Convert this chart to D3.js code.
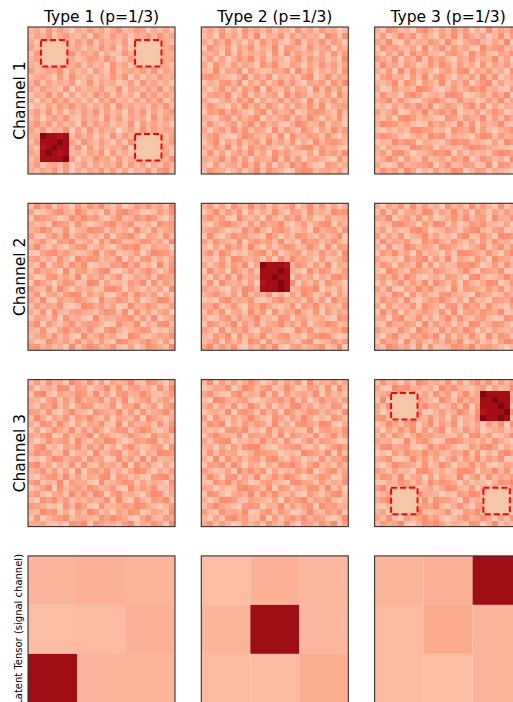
<!DOCTYPE html>
<html>
<head>
<meta charset="utf-8">
<script src="https://cdn.jsdelivr.net/npm/d3@7"></script>
<style>
  html, body { margin: 0; padding: 0; background: #fff; }
  text { font-family: "DejaVu Sans", sans-serif; fill: #000; }
</style>
</head>
<body>
<script>
// Column / row titles
const typeTitles = ["Type 1 (p=1/3)", "Type 2 (p=1/3)", "Type 3 (p=1/3)"];
const rowTitles = ["Channel 1", "Channel 2", "Channel 3"];
const latentTitle = "Latent Tensor (signal channel)";

// Noise levels per cell: digits 0 (light) .. 9 (dark); letters = signal block (a < b < c)
const noiseLevels = [0, 9];
const signalLevels = { a: 0.82, b: 0.87, c: 0.95 };

const ch1Type1 = [
  "4527364153746258347615362", "3648257436185374625473846", "5255555374826453717555553",
  "6355555462538471628555557", "2755555836471523846555554", "4655555524763851374555556",
  "5355555472635184627555553", "7346582635174283564738264", "3564172843625374816253745",
  "4826354713826451372846352", "6375428163547238165374826", "2548371625384726351847364",
  "5163847352617483526374815", "1426375846253718463527483", "4738261537482635174826357",
  "3615748326451837264518374", "5847263518374625381746352", "6372548162837450362837465",
  "45cbbab374615283745555536", "37bbbcb628537416285555547", "52abcbb481726354815555553",
  "64bcbab352648173525555562", "36bbbbc715384627355555548", "4725638147263548273615374",
  "5364827153648372615482793"
];
const ch1Type2 = [
  "4637251846372541836274513", "3518462739154827364519728", "6274935162847315926483751",
  "2853716482539176428357164", "5461827354618293745162837", "3726148593726415837462519",
  "6185273641859327516384726", "4392658174236581947253618", "7864315927481536279148365",
  "2537849163725948316572849", "5148362759184372651938472", "3675914826357194862537194",
  "6214738591624837519264835", "4853162947385162748391567", "2769485316927458136874293",
  "5316827469153682749516382", "3842571693846215973482651", "6157394826519374285163947",
  "4683215974362819547628315", "2591648357294638152947864", "5374926185743152689374521",
  "3826157493618574326185749", "6459382716549283715642183", "4172563948271639584217635",
  "3865147259386412798356472"
];
const ch1Type3 = [
  "5286341795263847152936481", "3714958263174928536148273", "6492173548629315784263915",
  "2857436192583746219578346", "4163829574316852947316582", "7538164928573164825493617",
  "3946275138496273518264739", "5271938464157389264735182", "2684517392684153729381465",
  "4359286175392648157926348", "6127453986214735869452173", "3845179624538971246385916",
  "5693842157962384513749268", "2416375849147526938162547", "7358126493685914372586134",
  "4261897354218637549273856", "5987463128574293816459327", "3142538976341865927314685",
  "6875214639782543169837452", "2439687154326978453162978", "5164329867153426987543216",
  "4728951346879162534279863", "3596174283462759148635194", "6213845679158347623918745",
  "4857396142735981476254318"
];
const ch2Type1 = [
  "3958264173859426137584629", "6124785396241837965213748", "2876413859673158248697315",
  "5341976284135794682351867", "4697238145987263519428356", "7215849367352816794165283",
  "3583176924618497235874619", "5942631578246315879326451", "2168957423591682347159874",
  "6735284196873549162783526", "4291673859124376958241937", "3856419267358921473695148",
  "5127846391647258136472865", "2964158723981634275918374", "7438295164523897164253619",
  "4815637982746215839647152", "6392174586319458627135984", "3746582139857361294586237",
  "5281943675426873918362571", "2653718452193546783729146", "6917425836764128549153893",
  "4382169574831795246871325", "3574836219358462197324658", "5129647383627319854695271",
  "7846351926974583261487539"
];
const ch2Type2 = [
  "4726185394726358149372615", "2593748162539417628453978", "6847219536184275936127345",
  "3158964273856931472589164", "5674132859417862351946728", "2931586743296153874263591",
  "7385429168573924186735842", "4162857394162587349518276", "5839614257938146725384619",
  "3417298546271839564172358", "6258374916cbbba4862739154", "2946185372bbbcb5319486237",
  "5173829465bbcbb2746153896", "3819546271abbcb9163728541", "7452163984bbbcb3587914262",
  "4685271936482517396248173", "2317946582137954628371956", "6592483175963248175936428",
  "3748156294718365942817364", "5126837459342871563452187", "2863591748256947381569734",
  "7419265831674312958243659", "4275918364925783416798312", "3581746297183564279135847",
  "6937482153849216735682491"
];
const ch2Type3 = [
  "5164829373518462937418256", "3827156498264937185263749", "6591473826135849367195482",
  "2438965174982613758432615", "4715238961347526894267139", "7263814593624179238519874",
  "3946572186953842617384526", "5182397465287531469258371", "2759461835416298753841692",
  "6324185792739164285196538", "4861753928153487961372845", "3197428653864259317658124",
  "5748396214527631894235967", "2615837492963718425981376", "7382164958341927653748251",
  "4529718363278543196523748", "3856293147695261834176592", "6173548296417839572843165",
  "2948163575382916748659234", "5617934826159384267312879", "3285476193746152983587413",
  "7432851964283749615264358", "4169327585917263841938627", "2856193742648591372416985",
  "5397462818234875926753142"
];
const ch3Type1 = [
  "3728451963827164593287416", "6145398276145938267451839", "2893164587392617845963257",
  "5416827394658273914682573", "4275936158723481659247168", "7638215943186549372835694",
  "3951648275942716538196425", "5287394162658329174562837", "2614853927384157826973149",
  "6479128356917632485318562", "4138567294265984137689253", "3792416583748251694236718",
  "5867239145193478256154987", "2315984672856129473928345", "7946153828327563918473162",
  "4583726191674835269841537", "3157849362548917635217894", "6824391755219346872635418",
  "2469183574863572194758236", "5731562948397168453169825", "3186947253645829318427693",
  "7652318496218345769853147", "4397825163972516487136528", "2814679355438697521694375",
  "5563241879186453792548619"
];
const ch3Type2 = [
  "4917362585137264819354726", "2365814973682495137628194", "6842179354928173564917352",
  "3198546721356849271485637", "5726381496271538946253871", "2453917862847196358736429",
  "7184263595318627495142863", "3869152747629351786498215", "5341786924183745329167548",
  "2695438176572918643825937", "6278914353946283158376412", "4516273899421567832514796",
  "3837561248765134297649183", "5192847367389426514283659", "2768395154153879626935274",
  "7423619585816243759147836", "4951782639248597413586127", "3286947512674318965273548",
  "6514238976391762548839261", "2873156493859436217425893", "5149873265426185793658314",
  "3695421787154927368196745", "7328564912683751249437582", "4162895733917268584762139",
  "5837412646285394176385926"
];
const ch3Type3 = [
  "3845162974538271694827365", "6219784535196843257163498", "457391826284715936cbbbb47",
  "291648375319628475bbcbb63", "638257149562483917bbbcb25", "514793682147359628abbbc84",
  "783126954836172549cbbcb36", "2496378159274815362749183", "5163849272691538471356247",
  "3728514967453261894712596", "6451293784128974536285319", "4895672139586312748961534",
  "2317486595743659281427968", "5682139473615827493758126", "3149765282496154837213657",
  "7526341896352489716594823", "4873925617164392582836471", "2254863739687516243148795",
  "6931578246259843715472368", "3468217955413276984759132", "5795436182876419352683547",
  "2142698576932584167391826", "4617852933458127693245718", "6383174695721368458516283",
  "3756921487963542871492536"
];

// Masked (candidate) locations, [row, col] in cell units
const masksType1 = [[2, 2], [2, 18], [18, 18]];
const masksType3 = [[2.1, 2.6], [18.2, 2.6], [18.2, 18.3]];

// Latent tensor values (on Reds 0..1)
const latentType1 = [[0.27, 0.28, 0.27], [0.24, 0.25, 0.28], [0.88, 0.27, 0.27]];
const latentType2 = [[0.24, 0.28, 0.26], [0.27, 0.88, 0.26], [0.25, 0.25, 0.29]];
const latentType3 = [[0.27, 0.28, 0.88], [0.25, 0.30, 0.27], [0.25, 0.24, 0.27]];

const channelGrids = [
  [ch1Type1, ch1Type2, ch1Type3],
  [ch2Type1, ch2Type2, ch2Type3],
  [ch3Type1, ch3Type2, ch3Type3]
];
const panelMasks = { "0-0": masksType1, "2-2": masksType3 };
const latentGrids = [latentType1, latentType2, latentType3];

// Layout
const W = 513, H = 702, PANEL = 147, N = 25;
const colX = d3.scaleLinear().domain([0, 1]).range([28, 201.3]);
const rowY = d3.scaleLinear().domain([0, 1]).range([27, 203.3]);
const noiseT = d3.scaleLinear().domain(noiseLevels).range([0.17, 0.40]);
const MASK_FILL = "#f5c7a9";

function cellColor(ch) {
  if (signalLevels[ch] !== undefined) return d3.interpolateReds(signalLevels[ch]);
  return d3.interpolateReds(noiseT(+ch));
}

const svg = d3.select("body").append("svg")
  .attr("width", W).attr("height", H);

const cx = d3.scaleBand().domain(d3.range(N)).range([0, PANEL]);
const cu = d3.scaleLinear().domain([0, N]).range([0, PANEL]);

channelGrids.forEach((row, r) => {
  row.forEach((grid, c) => {
    const g = svg.append("g").attr("transform", `translate(${colX(c)},${rowY(r)})`);
    const cells = [];
    grid.forEach((line, i) => line.split("").forEach((ch, j) => cells.push({ i, j, ch })));
    g.append("g").attr("shape-rendering", "crispEdges")
      .selectAll("rect").data(cells).join("rect")
      .attr("x", d => cx(d.j)).attr("y", d => cx(d.i))
      .attr("width", cx.bandwidth()).attr("height", cx.bandwidth())
      .attr("fill", d => cellColor(d.ch));

    const masks = panelMasks[`${r}-${c}`] || [];
    g.selectAll("rect.mask").data(masks).join("rect")
      .attr("class", "mask")
      .attr("x", d => cu(d[1] + 0.2)).attr("y", d => cu(d[0] + 0.2))
      .attr("width", cu(4.5)).attr("height", cu(4.5))
      .attr("fill", MASK_FILL)
      .attr("stroke", "#ff0000").attr("stroke-width", 2)
      .attr("stroke-dasharray", "6,3");

    g.append("rect").attr("width", PANEL).attr("height", PANEL)
      .attr("fill", "none").attr("stroke", "#333").attr("stroke-width", 1.1);
  });
});

// Latent tensor row
const lx = d3.scaleBand().domain(d3.range(3)).range([0, PANEL]);
latentGrids.forEach((grid, c) => {
  const g = svg.append("g").attr("transform", `translate(${colX(c)},${rowY(3)})`);
  const cells = [];
  grid.forEach((line, i) => line.forEach((v, j) => cells.push({ i, j, v })));
  g.selectAll("rect").data(cells).join("rect")
    .attr("x", d => lx(d.j)).attr("y", d => lx(d.i))
    .attr("width", lx.bandwidth()).attr("height", lx.bandwidth())
    .attr("fill", d => d3.interpolateReds(d.v));
  g.append("rect").attr("width", PANEL).attr("height", PANEL)
    .attr("fill", "none").attr("stroke", "#333").attr("stroke-width", 1.1);
});

// Titles
svg.selectAll("text.title").data(typeTitles).join("text")
  .attr("class", "title")
  .attr("x", (d, i) => colX(i) + PANEL / 2).attr("y", 22)
  .attr("text-anchor", "middle").style("font-size", "15.5px")
  .text(d => d);

svg.selectAll("text.rowlab").data(rowTitles).join("text")
  .attr("class", "rowlab")
  .attr("transform", (d, i) => `translate(25,${rowY(i) + PANEL / 2}) rotate(-90)`)
  .attr("text-anchor", "middle").style("font-size", "15.5px")
  .text(d => d);

svg.append("text")
  .attr("transform", `translate(22,${rowY(3) + PANEL / 2}) rotate(-90)`)
  .attr("text-anchor", "middle").style("font-size", "10px")
  .text(latentTitle);
</script>
</body>
</html>
